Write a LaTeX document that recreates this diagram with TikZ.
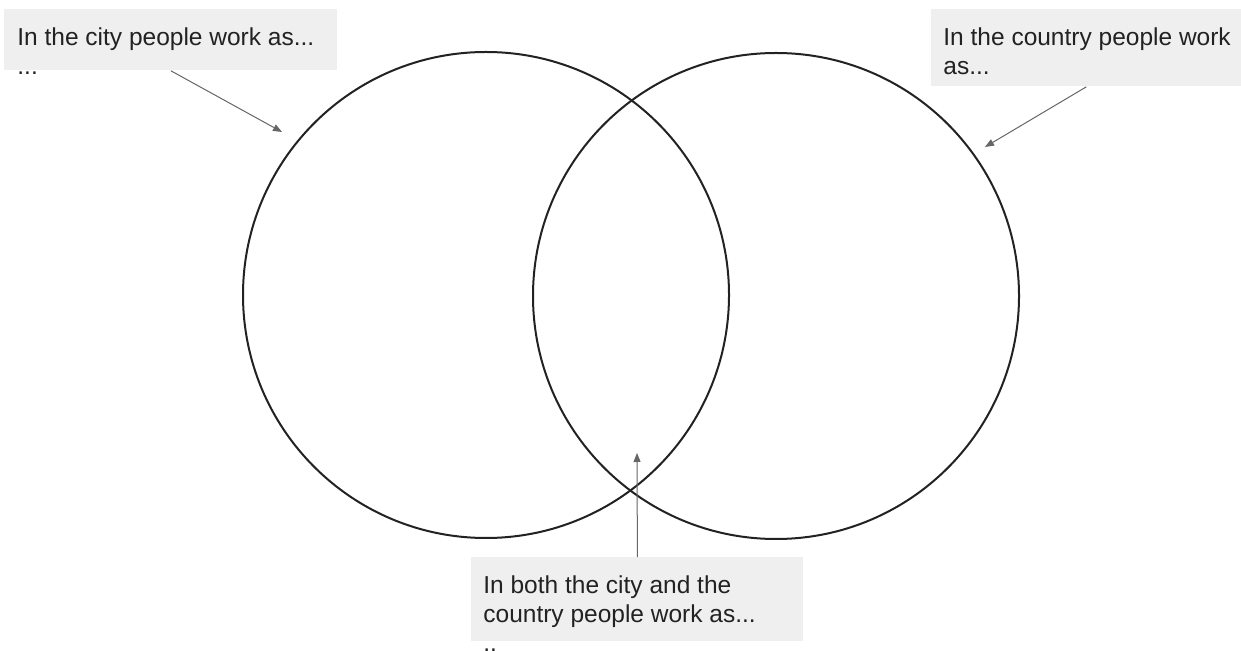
\documentclass[tikz,border=0pt]{standalone}
\usepackage{fontspec}
\setmainfont{Liberation Sans}
\usetikzlibrary{arrows.meta,positioning}
\definecolor{boxgray}{RGB}{239,239,239}
\definecolor{pointer}{RGB}{102,102,102}
\definecolor{ink}{RGB}{34,34,34}

\begin{document}
\begin{tikzpicture}[x=0.5pt,y=-0.5pt,
  ring/.style={draw=ink,line width=1pt,circle,minimum size=243pt,inner sep=0pt},
  note/.style={fill=boxgray,inner sep=0pt,anchor=north west},
  notetext/.style={anchor=north west,inner sep=0pt,align=left,text=ink,font=\fontsize{12.25pt}{14.5pt}\selectfont},
  arr/.style={-{Triangle[length=4.5pt,width=3.5pt]},draw=pointer,line width=0.5pt}
]
\useasboundingbox (0,0) rectangle (1241,651);

% the two sets
\node[ring] (city)    at (486,295) {};
\node[ring] (country) at (776,296) {};

% grey note boxes
\node[note,minimum width=166.5pt,minimum height=30.5pt] (citybox)    at (4,9)    {};
\node[note,minimum width=155pt,minimum height=38.5pt]   (countrybox) at (931,9)  {};
\node[note,minimum width=166pt,minimum height=42pt]     (bothbox)    at (471,557) {};

% texts (they run past the boxes)
\node[notetext] (citytext)    at (17,27.5)   {In the city people work as...\\...};
\node[notetext] (countrytext) at (943,27.5)  {In the country people work\\as...};
\node[notetext] (bothtext)    at (483,575.5) {In both the city and the\\country people work as...\\..};

% pointers
\coordinate (cityhead)    at (282,132);
\coordinate (countryhead) at (985,147);
\coordinate (bothhead)    at (637,453);
\draw[arr] (citybox.south)    -- (cityhead);
\draw[arr] (countrybox.south) -- (countryhead);
\draw[arr] (bothbox.north)    -- (bothhead);
\end{tikzpicture}
\end{document}
